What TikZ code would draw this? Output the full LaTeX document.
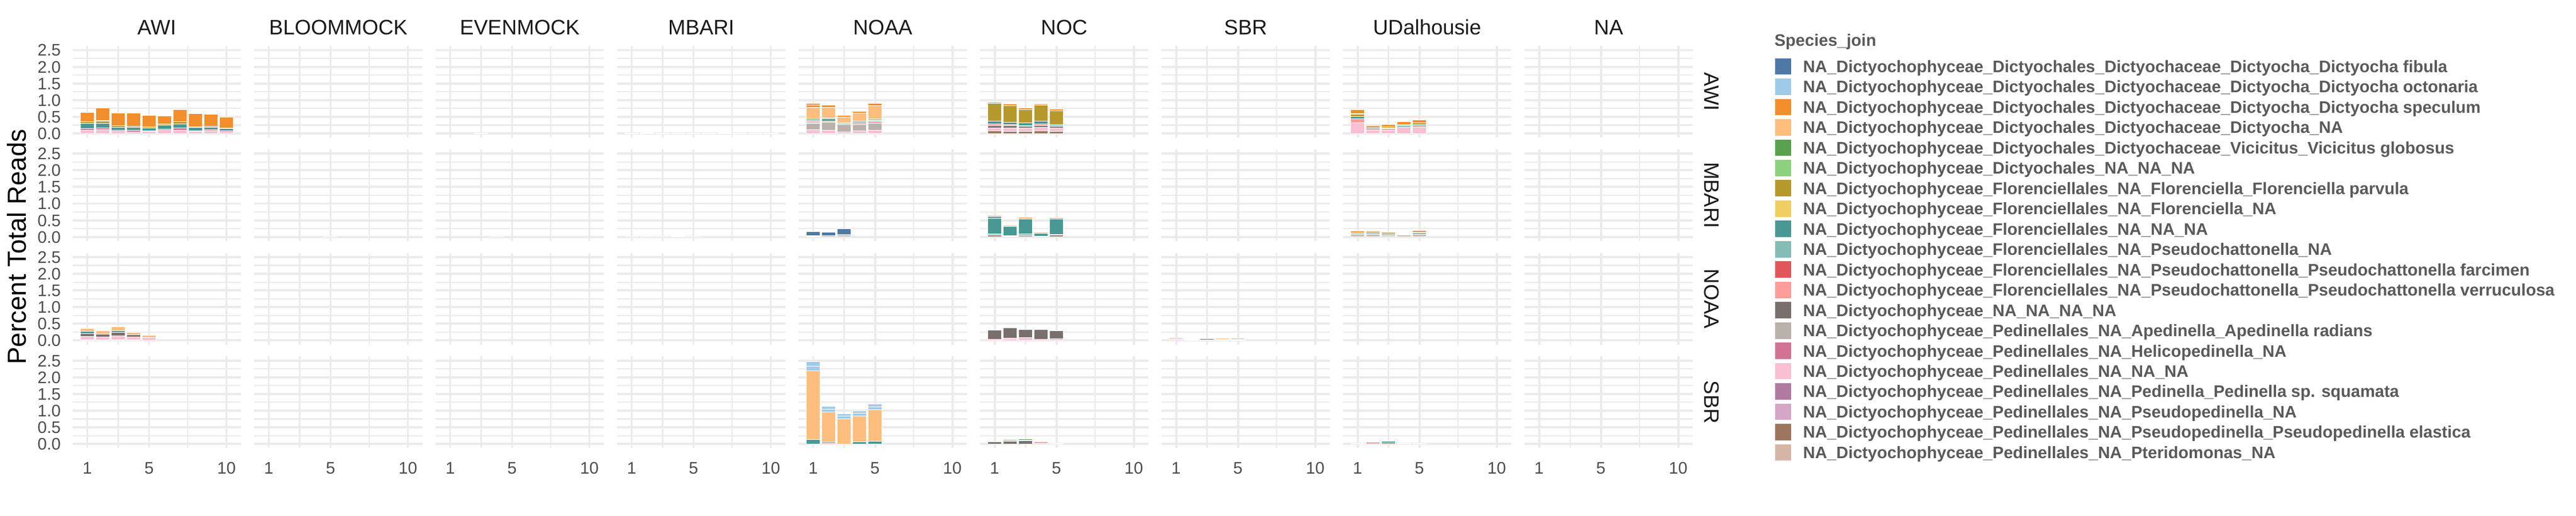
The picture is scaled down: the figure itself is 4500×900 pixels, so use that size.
\documentclass[tikz,border=0pt]{standalone}
\usepackage{fontspec}
\setmainfont{Liberation Sans}
\definecolor{t1}{HTML}{4E79A7}
\definecolor{t2}{HTML}{A0CBE8}
\definecolor{t3}{HTML}{F28E2B}
\definecolor{t4}{HTML}{FFBE7D}
\definecolor{t5}{HTML}{59A14F}
\definecolor{t6}{HTML}{8CD17D}
\definecolor{t7}{HTML}{B6992D}
\definecolor{t8}{HTML}{F1CE63}
\definecolor{t9}{HTML}{499894}
\definecolor{t10}{HTML}{86BCB6}
\definecolor{t11}{HTML}{E15759}
\definecolor{t12}{HTML}{FF9D9A}
\definecolor{t13}{HTML}{79706E}
\definecolor{t14}{HTML}{BAB0AC}
\definecolor{t15}{HTML}{D37295}
\definecolor{t16}{HTML}{FABFD2}
\definecolor{t17}{HTML}{B07AA1}
\definecolor{t18}{HTML}{D4A6C8}
\definecolor{t19}{HTML}{9D7660}
\definecolor{t20}{HTML}{D7B5A6}
\definecolor{gridgrey}{HTML}{EBEBEB}
\definecolor{ticktext}{HTML}{4D4D4D}
\definecolor{striptext}{HTML}{1A1A1A}
\definecolor{legendtext}{HTML}{5A5A5A}

\newcommand\sbar[4]{%
  \pgfmathsetmacro\sbL{127+317*(#1-1)+(#3-0.055)*27-12.15}%
  \pgfmathsetmacro\sbR{\sbL+24.3}%
  \pgfmathsetmacro\sbZ{233+180.7*(#2-1)}%
  \gdef\sbPrev{0}%
  \foreach \barcol/\bartop in {#4}{%
    \draw[seg,fill=\barcol] (\sbL,{\sbZ-\sbPrev*58.2}) rectangle (\sbR,{\sbZ-\bartop*58.2});%
    \xdef\sbPrev{\bartop}%
  }%
}

\begin{document}
\begin{tikzpicture}[x=0.2409pt,y=-0.2409pt,
  gminor/.style={draw=gridgrey,line width=0.5pt},
  gmajor/.style={draw=gridgrey,line width=0.95pt},
  seg/.style={draw=white,line width=0.22pt},
  keybox/.style={draw=white,line width=0.3pt},
  striplab/.style={font=\fontsize{8.8}{10}\selectfont,text=striptext,inner sep=0pt},
  ticklab/.style={font=\fontsize{7.04}{8}\selectfont,text=ticktext,inner sep=0pt},
  legtxt/.style={font=\bfseries\fontsize{7}{8}\selectfont,text=legendtext,inner sep=0pt,anchor=base west},
  axtitle/.style={font=\fontsize{11}{13}\selectfont,text=black,inner sep=0pt}]
\useasboundingbox[fill=white] (0,0) rectangle (4500,900);

% ---------- grid of every panel ----------
\foreach \c in {1,...,9}{
  \foreach \r in {1,...,4}{
    \pgfmathsetmacro\gL{127+317*(\c-1)}
    \pgfmathsetmacro\gR{\gL+294}
    \pgfmathsetmacro\gZ{233+180.7*(\r-1)}
    \pgfmathsetmacro\gT{\gZ-152.8}
    \pgfmathsetmacro\gB{\gZ+7.3}
    \foreach \v in {0.25,0.75,1.25,1.75,2.25}
      \draw[gminor] (\gL,{\gZ-\v*58.2}) -- (\gR,{\gZ-\v*58.2});
    \foreach \u in {3,7.5}
      \draw[gminor] ({\gL+(\u-0.055)*27},\gT) -- ({\gL+(\u-0.055)*27},\gB);
    \foreach \v in {0,0.5,1,1.5,2,2.5}
      \draw[gmajor] (\gL,{\gZ-\v*58.2}) -- (\gR,{\gZ-\v*58.2});
    \foreach \u in {1,5,10}
      \draw[gmajor] ({\gL+(\u-0.055)*27},\gT) -- ({\gL+(\u-0.055)*27},\gB);
  }
}

% ---------- bars ----------
% AWI / AWI
\sbar{1}{1}{1}{t16/0.097,t15/0.149,t9/0.304,t7/0.345,t8/0.355,t3/0.630}
\sbar{1}{1}{2}{t16/0.115,t15/0.160,t9/0.309,t7/0.379,t8/0.389,t3/0.773}
\sbar{1}{1}{3}{t16/0.063,t15/0.103,t9/0.189,t7/0.229,t3/0.613}
\sbar{1}{1}{4}{t16/0.046,t15/0.092,t9/0.178,t7/0.218,t3/0.607}
\sbar{1}{1}{5}{t16/0.069,t15/0.086,t9/0.160,t7/0.200,t3/0.544}
\sbar{1}{1}{6}{t16/0.097,t15/0.132,t9/0.258,t7/0.292,t3/0.521}
\sbar{1}{1}{7}{t16/0.097,t15/0.160,t9/0.292,t7/0.345,t8/0.355,t3/0.722}
\sbar{1}{1}{8}{t16/0.063,t15/0.086,t9/0.178,t7/0.206,t3/0.596}
\sbar{1}{1}{9}{t16/0.086,t15/0.120,t9/0.183,t7/0.212,t3/0.578}
\sbar{1}{1}{10}{t16/0.046,t15/0.086,t9/0.143,t7/0.160,t3/0.498}
% MBARI / AWI
\sbar{4}{1}{1}{t3/0.012}
\sbar{4}{1}{2}{t4/0.010,t3/0.025}
\sbar{4}{1}{3}{t3/0.015}
\sbar{4}{1}{4}{t3/0.018}
\sbar{4}{1}{5}{t20/0.008}
\sbar{4}{1}{6}{t3/0.012}
\sbar{4}{1}{7}{t7/0.012,t3/0.028}
\sbar{4}{1}{8}{t4/0.010}
\sbar{4}{1}{9}{t20/0.008}
\sbar{4}{1}{10}{t4/0.008}
% NOAA / AWI
\sbar{5}{1}{1}{t16/0.115,t14/0.300,t13/0.320,t14/0.349,t12/0.389,t9/0.418,t7/0.464,t4/0.790,t3/0.850,t3/0.905}
\sbar{5}{1}{2}{t16/0.103,t14/0.332,t12/0.378,t9/0.435,t6/0.475,t4/0.785,t3/0.853}
\sbar{5}{1}{3}{t16/0.046,t14/0.275,t10/0.300,t6/0.321,t4/0.493,t3/0.538}
\sbar{5}{1}{4}{t16/0.074,t14/0.275,t12/0.304,t9/0.332,t7/0.367,t4/0.619,t3/0.664}
\sbar{5}{1}{5}{t16/0.092,t14/0.304,t12/0.355,t10/0.380,t9/0.412,t7/0.447,t4/0.836,t3/0.905}
% NOC / AWI
\sbar{6}{1}{1}{t19/0.074,t16/0.160,t13/0.235,t12/0.286,t9/0.372,t7/0.899,t3/0.945}
\sbar{6}{1}{2}{t19/0.069,t16/0.160,t13/0.235,t12/0.263,t9/0.332,t7/0.830,t3/0.893}
\sbar{6}{1}{3}{t19/0.063,t16/0.160,t13/0.218,t12/0.240,t9/0.321,t7/0.710,t3/0.773}
\sbar{6}{1}{4}{t19/0.074,t16/0.183,t13/0.240,t12/0.286,t9/0.367,t7/0.848,t3/0.893}
\sbar{6}{1}{5}{t19/0.057,t16/0.172,t13/0.218,t12/0.235,t9/0.275,t7/0.676,t3/0.739}
% UDalhousie / AWI
\sbar{8}{1}{1}{t16/0.321,t12/0.447,t9/0.504,t7/0.578,t5/0.601,t3/0.716}
\sbar{8}{1}{2}{t16/0.103,t12/0.149,t9/0.183,t3/0.235}
\sbar{8}{1}{3}{t16/0.103,t12/0.149,t9/0.172,t7/0.206,t3/0.263}
\sbar{8}{1}{4}{t16/0.189,t10/0.229,t6/0.263,t3/0.349}
\sbar{8}{1}{5}{t16/0.178,t12/0.235,t9/0.275,t7/0.326,t3/0.407}
% EVENMOCK / AWI trace
\sbar{3}{1}{3}{t14/0.006}

% BLOOMMOCK, EVENMOCK / MBARI traces
\sbar{2}{2}{5}{t14/0.006}
\sbar{3}{2}{4}{t14/0.006}
% MBARI / MBARI
\sbar{4}{2}{1}{t20/0.008}
\sbar{4}{2}{2}{t20/0.008}
\sbar{4}{2}{3}{t4/0.012}
\sbar{4}{2}{4}{t4/0.017}
\sbar{4}{2}{5}{t4/0.012}
% NOAA / MBARI
\sbar{5}{2}{1}{t10/0.029,t4/0.046,t1/0.160}
\sbar{5}{2}{2}{t10/0.040,t1/0.143}
\sbar{5}{2}{3}{t10/0.040,t3/0.074,t1/0.240}
% NOC / MBARI
\sbar{6}{2}{1}{t19/0.057,t10/0.086,t9/0.556,t9/0.613,t3/0.647}
\sbar{6}{2}{2}{t19/0.029,t10/0.046,t9/0.315,t4/0.344}
\sbar{6}{2}{3}{t19/0.046,t10/0.086,t9/0.530,t9/0.556,t3/0.584}
\sbar{6}{2}{4}{t14/0.017,t10/0.029,t9/0.115,t4/0.143}
\sbar{6}{2}{5}{t19/0.057,t10/0.080,t9/0.538,t3/0.573}
% UDalhousie / MBARI
\sbar{8}{2}{1}{t20/0.069,t10/0.100,t9/0.130,t3/0.170,t1/0.183}
\sbar{8}{2}{2}{t20/0.069,t10/0.110,t9/0.140,t3/0.180,t2/0.195}
\sbar{8}{2}{3}{t20/0.046,t10/0.080,t9/0.110,t3/0.150,t2/0.160}
\sbar{8}{2}{4}{t20/0.057,t10/0.075,t9/0.090,t4/0.115}
\sbar{8}{2}{5}{t20/0.080,t10/0.120,t9/0.150,t3/0.200,t1/0.218}

% AWI / NOAA
\sbar{1}{3}{1}{t18/0.020,t16/0.115,t13/0.212,t9/0.275,t4/0.355}
\sbar{1}{3}{2}{t18/0.020,t16/0.097,t13/0.189,t4/0.298}
\sbar{1}{3}{3}{t18/0.020,t16/0.137,t13/0.235,t9/0.298,t4/0.412}
\sbar{1}{3}{4}{t18/0.020,t16/0.097,t13/0.172,t4/0.246}
\sbar{1}{3}{5}{t16/0.086,t4/0.155}
% NOC / NOAA
\sbar{6}{3}{1}{t16/0.040,t13/0.310}
\sbar{6}{3}{2}{t18/0.030,t16/0.063,t13/0.372}
\sbar{6}{3}{3}{t16/0.086,t13/0.326}
\sbar{6}{3}{4}{t16/0.030,t13/0.326,t4/0.344}
\sbar{6}{3}{5}{t16/0.046,t13/0.298}
% SBR / NOAA
\sbar{7}{3}{1}{t16/0.030,t13/0.050,t4/0.086}
\sbar{7}{3}{2}{t16/0.020,t14/0.040}
\sbar{7}{3}{3}{t16/0.025,t13/0.057}
\sbar{7}{3}{4}{t16/0.020,t13/0.040,t4/0.063}
\sbar{7}{3}{5}{t16/0.020,t13/0.040,t20/0.063}

% NOAA / SBR
\sbar{5}{4}{1}{t9/0.137,t4/2.199,t2/2.330,t2/2.474}
\sbar{5}{4}{2}{t12/0.029,t9/0.057,t4/0.956,t2/1.050,t2/1.134}
\sbar{5}{4}{3}{t4/0.745,t2/0.830,t2/0.905}
\sbar{5}{4}{4}{t9/0.069,t4/0.842,t2/0.920,t2/0.997}
\sbar{5}{4}{5}{t9/0.086,t4/1.019,t2/1.110,t2/1.197}
% NOC / SBR
\sbar{6}{4}{1}{t13/0.057}
\sbar{6}{4}{2}{t13/0.080,t9/0.100,t6/0.137}
\sbar{6}{4}{3}{t13/0.090,t9/0.115,t5/0.143}
\sbar{6}{4}{4}{t13/0.017,t12/0.069}
\sbar{6}{4}{5}{t12/0.017}
% UDalhousie / SBR
\sbar{8}{4}{1}{t11/0.012}
\sbar{8}{4}{2}{t12/0.020,t11/0.050}
\sbar{8}{4}{3}{t13/0.030,t9/0.075}
\sbar{8}{4}{4}{t11/0.012}
\sbar{8}{4}{5}{t12/0.012}

% ---------- column strip labels ----------
\foreach \c/\name in {1/AWI,2/BLOOMMOCK,3/EVENMOCK,4/MBARI,5/NOAA,6/NOC,7/SBR,8/UDalhousie,9/NA}{
  \pgfmathsetmacro\cx{127+317*(\c-1)+147}
  \node[striplab,anchor=base] (col\c) at (\cx,60) {\name};
}
% ---------- row strip labels ----------
\foreach \r/\name in {1/AWI,2/MBARI,3/NOAA,4/SBR}{
  \pgfmathsetmacro\ry{233+180.7*(\r-1)-72.75}
  \node[striplab,anchor=base,rotate=-90] (row\r) at (2977,\ry) {\name};
}
% ---------- y tick labels ----------
\foreach \r in {1,...,4}{
  \foreach \v/\lab in {0/0.0,0.5/0.5,1/1.0,1.5/1.5,2/2.0,2.5/2.5}{
    \pgfmathsetmacro\ty{233+180.7*(\r-1)-\v*58.2+10.4}
    \node[ticklab,anchor=base east] (yt\r-\lab) at (107,\ty) {\lab};
  }
}
% ---------- x tick labels ----------
\foreach \c in {1,...,9}{
  \foreach \u in {1,5,10}{
    \pgfmathsetmacro\tx{127+317*(\c-1)+(\u-0.055)*27}
    \node[ticklab,anchor=base] (xt\c-\u) at (\tx,827) {\u};
  }
}
% ---------- axis title ----------
\node[axtitle,anchor=base,rotate=90] (ytitle) at (46,431) {Percent Total Reads};

% ---------- legend ----------
\node[legtxt] (legtitle) at (3099,80.5) {Species\_join};
\foreach \i/\txt in {
 1/{NA\_Dictyochophyceae\_Dictyochales\_Dictyochaceae\_Dictyocha\_Dictyocha fibula},
 2/{NA\_Dictyochophyceae\_Dictyochales\_Dictyochaceae\_Dictyocha\_Dictyocha octonaria},
 3/{NA\_Dictyochophyceae\_Dictyochales\_Dictyochaceae\_Dictyocha\_Dictyocha speculum},
 4/{NA\_Dictyochophyceae\_Dictyochales\_Dictyochaceae\_Dictyocha\_NA},
 5/{NA\_Dictyochophyceae\_Dictyochales\_Dictyochaceae\_Vicicitus\_Vicicitus globosus},
 6/{NA\_Dictyochophyceae\_Dictyochales\_NA\_NA\_NA},
 7/{NA\_Dictyochophyceae\_Florenciellales\_NA\_Florenciella\_Florenciella parvula},
 8/{NA\_Dictyochophyceae\_Florenciellales\_NA\_Florenciella\_NA},
 9/{NA\_Dictyochophyceae\_Florenciellales\_NA\_NA\_NA},
 10/{NA\_Dictyochophyceae\_Florenciellales\_NA\_Pseudochattonella\_NA},
 11/{NA\_Dictyochophyceae\_Florenciellales\_NA\_Pseudochattonella\_Pseudochattonella farcimen},
 12/{NA\_Dictyochophyceae\_Florenciellales\_NA\_Pseudochattonella\_Pseudochattonella verruculosa},
 13/{NA\_Dictyochophyceae\_NA\_NA\_NA\_NA},
 14/{NA\_Dictyochophyceae\_Pedinellales\_NA\_Apedinella\_Apedinella radians},
 15/{NA\_Dictyochophyceae\_Pedinellales\_NA\_Helicopedinella\_NA},
 16/{NA\_Dictyochophyceae\_Pedinellales\_NA\_NA\_NA},
 17/{NA\_Dictyochophyceae\_Pedinellales\_NA\_Pedinella\_Pedinella sp. squamata},
 18/{NA\_Dictyochophyceae\_Pedinellales\_NA\_Pseudopedinella\_NA},
 19/{NA\_Dictyochophyceae\_Pedinellales\_NA\_Pseudopedinella\_Pseudopedinella elastica},
 20/{NA\_Dictyochophyceae\_Pedinellales\_NA\_Pteridomonas\_NA}}{
  \pgfmathsetmacro\yc{116+35.47*(\i-1)}
  \draw[keybox,fill=t\i] (3100,{\yc-15}) rectangle (3130,{\yc+15});
  \node[legtxt] (lab\i) at (3149,{\yc+10.4}) {\txt};
}
\end{tikzpicture}
\end{document}
